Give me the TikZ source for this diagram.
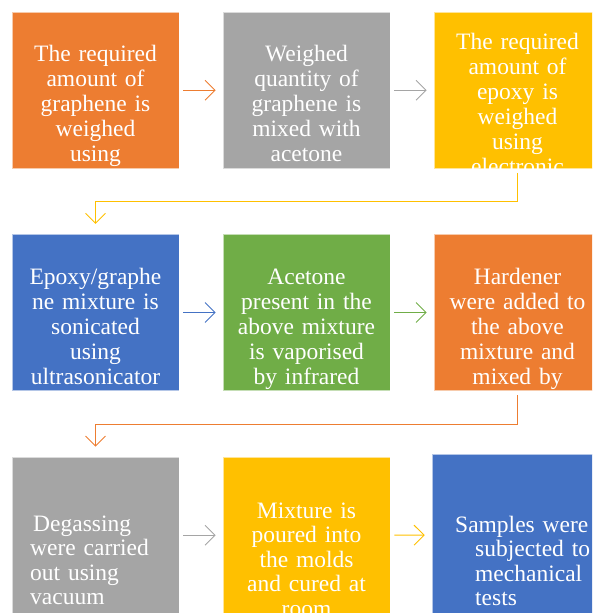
\documentclass[tikz,border=0pt]{standalone}
\usepackage{fontspec}
\setmainfont{Liberation Serif}
\usetikzlibrary{arrows.meta}

\definecolor{accorange}{HTML}{ED7D31}
\definecolor{accgray}{HTML}{A5A5A5}
\definecolor{accyellow}{HTML}{FFC000}
\definecolor{accblue}{HTML}{4472C4}
\definecolor{accgreen}{HTML}{70AD47}

\begin{document}
\begin{tikzpicture}[x=1pt, y=-1pt,
    stepbox/.style={draw=white, draw opacity=0.6, line width=0.7pt, minimum width=167pt, minimum height=156.5pt, inner sep=0pt},
    steptext/.style={text=white, font=\fontsize{23.5}{25}\selectfont, text width=167pt, align=center, inner sep=0pt, anchor=base},
    lowtext/.style={steptext, font=\fontsize{23.5}{24.5}\selectfont},
    flow/.style={line width=0.9pt, -{Straight Barb[length=10pt, width=20pt]}, shorten <=4pt, shorten >=7pt},
    turn/.style={line width=0.9pt, -{Straight Barb[length=10pt, width=20pt]}}]
            \useasboundingbox (0,0) rectangle (592,613);
            \clip (0,0) rectangle (592,613);

            % Boxes of the first row
            \node[stepbox, fill=accorange] (a) at (95.5,90.25) {};
            \node[stepbox, fill=accgray] (b) at (306.5,90.25) {};
            \node[stepbox, fill=accyellow] (c) at (517.5,90.25) {};

            % Boxes of the second row
            \node[stepbox, fill=accblue] (d) at (95.5,312.5) {};
            \node[stepbox, fill=accgreen] (e) at (306.5,312.5) {};
            \node[stepbox, fill=accorange] (f) at (517.5,312.5) {};

            % Boxes of the third row
            \node[stepbox, fill=accgray] (g) at (95.5,535.25) {};
            \node[stepbox, fill=accyellow] (h) at (306.5,535.25) {};
            \node[stepbox, fill=accblue, minimum width=170pt, minimum height=162pt] (i) at (517,535) {};

            % Texts, cut off at the box edges
            \begin{scope}
                \clip (a.south west) rectangle (a.north east);
                \node[steptext] (a-text) at (95.5,61) {The required\\amount of\\graphene is\\weighed\\using};
            \end{scope}
            \begin{scope}
                \clip (b.south west) rectangle (b.north east);
                \node[steptext] (b-text) at (306.5,61) {Weighed\\quantity of\\graphene is\\mixed with\\acetone};
            \end{scope}
            \begin{scope}
                \clip (c.south west) rectangle (c.north east);
                \node[steptext] (c-text) at (517.5,49) {The required\\amount of\\epoxy is\\weighed\\using\\electronic};
            \end{scope}
            \begin{scope}
                \clip (d.south west) rectangle (d.north east);
                \node[steptext] (d-text) at (95.5,284) {Epoxy/graphe\\ne mixture is\\sonicated\\using\\ultrasonicator};
            \end{scope}
            \begin{scope}
                \clip (e.south west) rectangle (e.north east);
                \node[steptext] (e-text) at (306.5,284) {Acetone\\present in the\\above mixture\\is vaporised\\by infrared};
            \end{scope}
            \begin{scope}
                \clip (f.south west) rectangle (f.north east);
                \node[steptext] (f-text) at (517.5,284) {Hardener\\were added to\\the above\\mixture and\\mixed by};
            \end{scope}
            \begin{scope}
                \clip (g.south west) rectangle (g.north east);
                \node[lowtext, align=left, anchor=base west, text width=150pt] (g-text) at (30,531) {\hspace*{3pt}Degassing\\were carried\\out using\\vacuum};
            \end{scope}
            \begin{scope}
                \clip (h.south west) rectangle (h.north east);
                \node[lowtext] (h-text) at (306.5,518) {Mixture is\\poured into\\the molds\\and cured at\\room};
            \end{scope}
            \begin{scope}
                \clip (i.south west) rectangle (i.north east);
                \node[lowtext, align=left, anchor=base west, text width=150pt] (i-text) at (455,532) {Samples were\\\hspace*{20pt}subjected to\\\hspace*{20pt}mechanical\\\hspace*{20pt}tests};
            \end{scope}

            % Arrows within the rows
            \draw[flow, accorange] (a) -- (b);
            \draw[flow, accgray] (b) -- (c);
            \draw[flow, accblue] (d) -- (e);
            \draw[flow, accgreen] (e) -- (f);
            \draw[flow, accgray] (g) -- (h);
            \draw[flow, accyellow] (h) -- (i);

            % Arrows from one row to the next
            \coordinate (k1) at (95.5,201);
            \coordinate (k2) at (95.5,424);
            \draw[turn, accyellow] ([yshift=-4pt]c.south) -- (c.south |- k1) -- (k1) -- ([yshift=10pt]d.north);
            \draw[turn, accorange] ([yshift=-4pt]f.south) -- (f.south |- k2) -- (k2) -- ([yshift=10pt]g.north);
        \end{tikzpicture}
\end{document}
